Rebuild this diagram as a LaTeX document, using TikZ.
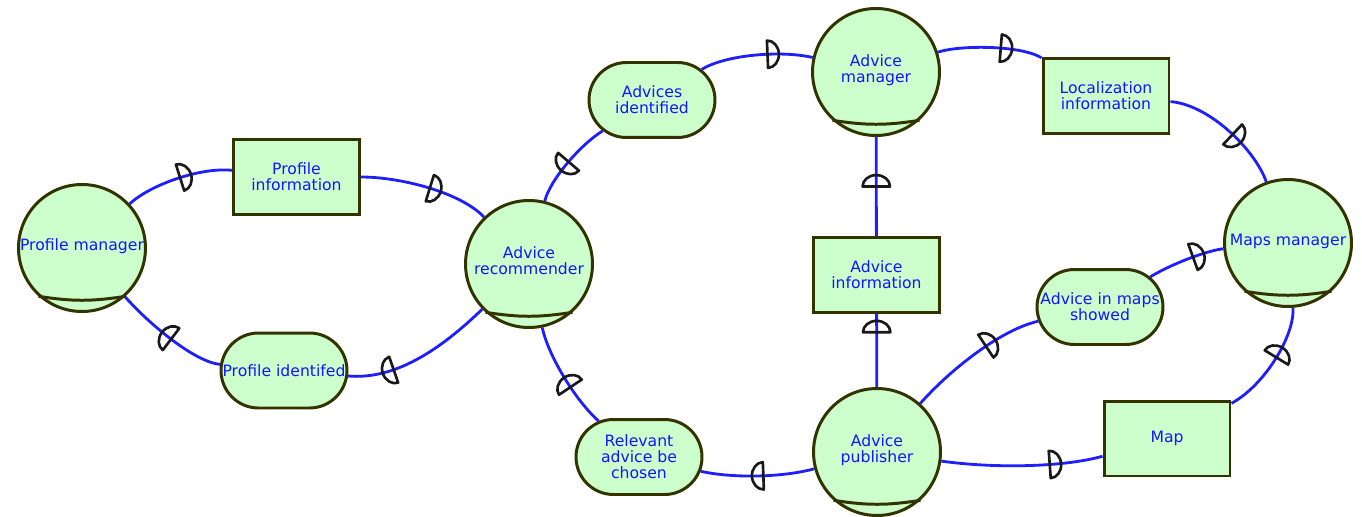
\documentclass[tikz,border=0pt]{standalone}
\usepackage{fontspec}
\setmainfont{DejaVu Sans}
\usetikzlibrary{decorations.markings, shapes.misc}
\pgfdeclarelayer{bg}
\pgfsetlayers{bg,main}

\definecolor{actfill}{RGB}{204,255,204}
\definecolor{edgedark}{RGB}{51,51,0}
\definecolor{linkblue}{RGB}{30,30,255}
\definecolor{txtblue}{RGB}{20,20,255}

\tikzset{
  base/.style={draw=edgedark, line width=1.7pt, fill=actfill, text=txtblue,
    font=\fontsize{8.9pt}{9.1pt}\selectfont, align=center, inner sep=0pt},
  actor/.style={base, circle, minimum size=2.54cm, text depth=4pt},
  resource/.style={base, rectangle, minimum width=2.52cm, minimum height=1.5cm},
  goal/.style={base, rounded rectangle, minimum width=2.52cm, minimum height=1.5cm},
  conn/.style={draw=linkblue, line width=1.6pt},
  dmark/.style={draw=black!90, line width=1.5pt, line join=round},
  % half-disc dependency marker, dome pointing along the path
  depfwd/.style={postaction={decorate, decoration={markings,
    mark=at position #1 with {\draw[dmark] (0,7.8pt) arc[start angle=90, end angle=-90, x radius=6.5pt, y radius=7.8pt] -- cycle;}}}},
  actorbase/.style={draw=edgedark, line width=1.7pt},
}

% lower rim inside an actor circle
\newcommand{\actorline}[1]{\draw[actorbase] (#1.228) to[bend right=9] (#1.312);}

\begin{document}
\begin{tikzpicture}[x=0.02cm, y=-0.02cm]
\useasboundingbox (0,0) rectangle (1362,517);

% actors
\node[actor] (pm) at (82,248) {Profile manager};
\node[actor] (ar) at (529,264) {Advice\\recommender};
\node[actor] (am) at (876,72) {Advice\\manager};
\node[actor] (ap) at (877,452) {Advice\\publisher};
\node[actor] (mm) at (1288,243) {Maps manager};
\actorline{pm}
\actorline{ar}
\actorline{am}
\actorline{ap}
\actorline{mm}

% resources
\node[resource] (pi) at (296.5,177) {Profile\\information};
\node[resource] (ainf) at (876.5,275) {Advice\\information};
\node[resource] (li) at (1106,96) {Localization\\information};
\node[resource] (map) at (1167,438.5) {Map};

% goals
\node[goal] (aid) at (652,100) {Advices\\identified};
\node[goal] (pid) at (284,370.5) {Profile identifed};
\node[goal] (ra) at (639,457) {Relevant\\advice be\\chosen};
\node[goal] (aim) at (1100,307) {Advice in maps\\showed};

% dependency links
\begin{pgfonlayer}{bg}
\draw[conn, depfwd=0.52] (pm) .. controls (150,185) and (200,167) .. (pi);
\draw[conn, depfwd=0.53] (pi) .. controls (400,177) and (460,192) .. (ar);
\draw[conn, depfwd=0.47] (pid) .. controls (195,362) and (150,325) .. (pm);
\draw[conn, depfwd=0.7] (ar) .. controls (440,350) and (395,380) .. (pid);
\draw[conn, depfwd=0.5] (aid) .. controls (580,145) and (550,180) .. (ar);
\draw[conn, depfwd=0.6] (aid) .. controls (725,55) and (780,50) .. (am);
\draw[conn, depfwd=0.6] (am) .. controls (960,45) and (1020,45) .. (li);
\draw[conn, depfwd=0.55] (li) .. controls (1210,105) and (1255,150) .. (mm);
\draw[conn, depfwd=0.5] (ainf) -- (am);
\draw[conn, depfwd=0.75] (ap) -- (ainf);
\draw[conn, depfwd=0.4] (ra) .. controls (575,400) and (548,355) .. (ar);
\draw[conn, depfwd=0.45] (ap) .. controls (780,478) and (730,478) .. (ra);
\draw[conn, depfwd=0.67] (ap) .. controls (990,468) and (1060,468) .. (map);
\draw[conn, depfwd=0.55] (map) .. controls (1265,385) and (1295,335) .. (mm);
\draw[conn, depfwd=0.6] (ap) .. controls (950,370) and (1000,330) .. (aim);
\draw[conn, depfwd=0.6] (aim) .. controls (1175,262) and (1210,250) .. (mm);
\end{pgfonlayer}
\end{tikzpicture}
\end{document}
